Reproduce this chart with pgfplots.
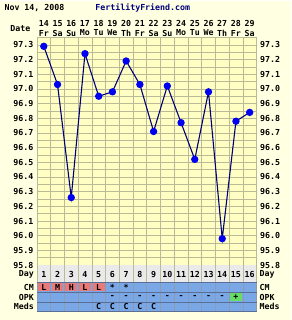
\documentclass[border=0pt]{standalone}
\usepackage{pgfplots}
\pgfplotsset{compat=1.18}
\usepackage{fontspec}
\setmainfont{DejaVu Sans Mono}
\definecolor{outerbg}{RGB}{255,255,226}
\definecolor{plotbg}{RGB}{255,255,196}
\definecolor{gridc}{RGB}{186,186,150}
\definecolor{navyline}{RGB}{0,0,120}
\definecolor{mk}{RGB}{0,0,240}
\definecolor{tblue}{RGB}{122,167,230}
\definecolor{tred}{RGB}{232,122,122}
\definecolor{tgreen}{RGB}{102,220,102}
\definecolor{tgray}{RGB}{234,234,234}
\definecolor{tline}{RGB}{90,110,150}
\definecolor{ffblue}{RGB}{0,0,128}
\newcommand{\ff}{\bfseries\fontsize{8.3}{9}\selectfont}
\pgfplotsset{
  commonax/.style={
    at={(37pt,-265pt)}, anchor=south west, scale only axis,
    width=220pt, height=228pt,
    xmin=0.5, xmax=16.5, ymin=95.8, ymax=97.35,
    ytick={95.8,95.9,96.0,96.1,96.2,96.3,96.4,96.5,96.6,96.7,96.8,96.9,97.0,97.1,97.2,97.3},
    yticklabel style={/pgf/number format/.cd, fixed, fixed zerofill, precision=1, assume math mode=true},
    tick label style={font=\ff, text=black},
    major tick length=0pt, minor tick length=0pt,
  }
}
\begin{document}
\begin{tikzpicture}[x=1pt,y=1pt]
\fill[outerbg] (0,0) rectangle (292,-320);
\begin{axis}[commonax,
  axis background/.style={fill=plotbg},
  xtick={0.5,1.5,2.5,3.5,4.5,5.5,6.5,7.5,8.5,9.5,10.5,11.5,12.5,13.5,14.5,15.5,16.5},
  xticklabels={},
  minor ytick={95.85,95.95,96.05,96.15,96.25,96.35,96.45,96.55,96.65,96.75,96.85,96.95,97.05,97.15,97.25},
  grid=both,
  major grid style={gridc, line width=0.6pt},
  minor grid style={gridc, line width=0.6pt},
  axis line style={gridc, line width=0.8pt},
  clip=false]
\addplot[navyline, line width=1.1pt, mark=*, mark size=3.1pt, mark options={draw=mk, fill=mk}]
coordinates {
(1,97.29) (2,97.03) (3,96.26) (4,97.24) (5,96.95) (6,96.98) (7,97.19) (8,97.03)
(9,96.71) (10,97.02) (11,96.77) (12,96.52) (13,96.98) (14,95.98) (15,96.78) (16,96.84)
};
\end{axis}
\begin{axis}[commonax,
  yticklabel pos=right,
  xtick=\empty,
  axis line style={draw=none},
  axis background/.style={}]
\end{axis}
% header
\node[anchor=west, font=\ff] at (1,-7) {Nov 14, 2008};
\node[anchor=west, font=\ff, text=ffblue] at (92,-7) {FertilityFriend.com};
\node[anchor=east, font=\ff] at (34,-28) {Date};
\foreach [count=\i] \d/\w in {14/Fr,15/Sa,16/Su,17/Mo,18/Tu,19/We,20/Th,21/Fr,22/Sa,23/Su,24/Mo,25/Tu,26/We,27/Th,28/Fr,29/Sa}{
  \pgfmathsetmacro\cx{37+13.75*(\i-0.5)}
  \node[font=\ff, inner sep=0pt] at (\cx,-23) {\d};
  \node[font=\ff, inner sep=0pt] at (\cx,-32.5) {\w};
}
% table
\fill[tgray] (37,-265) rectangle (257,-282);
\fill[tblue] (37,-282) rectangle (257,-311);
\foreach \i in {1,...,5}{
  \fill[tred] ({37+13.75*(\i-1)+1},-283) rectangle ({37+13.75*\i-1},-291);
}
\fill[tgreen] ({37+13.75*14+1},-293) rectangle ({37+13.75*15-1},-301);
\foreach \i in {0,...,16}{
  \draw[gridc, line width=0.6pt] ({37+13.75*\i},-265) -- ({37+13.75*\i},-282);
  \draw[tline!70, line width=0.6pt] ({37+13.75*\i},-282) -- ({37+13.75*\i},-311);
}
\draw[tline, line width=0.7pt] (37,-282) -- (257,-282);
\draw[tline, line width=0.7pt] (37,-292) -- (257,-292);
\draw[tline, line width=0.7pt] (37,-302) -- (257,-302);
\draw[tline, line width=0.7pt] (37,-311) -- (257,-311);
\foreach \i in {1,...,16}{
  \pgfmathsetmacro\cx{37+13.75*(\i-0.5)}
  \node[font=\ff, inner sep=0pt] at (\cx,-274) {\i};
}
\foreach \i/\t in {1/L,2/M,3/H,4/L,5/L,6/*,7/*}{
  \pgfmathsetmacro\cx{37+13.75*(\i-0.5)}
  \node[font=\ff, inner sep=0pt] at (\cx,-287.5) {\t};
}
\foreach \i/\t in {6/-,7/-,8/-,9/-,10/-,11/-,12/-,13/-,14/-,15/+}{
  \pgfmathsetmacro\cx{37+13.75*(\i-0.5)}
  \node[font=\ff, inner sep=0pt] at (\cx,-297) {\t};
}
\foreach \i in {5,...,9}{
  \pgfmathsetmacro\cx{37+13.75*(\i-0.5)}
  \node[font=\ff, inner sep=0pt] at (\cx,-306.5) {C};
}
\foreach \y/\t in {-274/Day,-287.5/CM,-297/OPK,-306.5/Meds}{
  \node[anchor=east, font=\ff, inner sep=0pt] at (34,\y) {\t};
  \node[anchor=west, font=\ff, inner sep=0pt] at (260,\y) {\t};
}
\end{tikzpicture}
\end{document}
